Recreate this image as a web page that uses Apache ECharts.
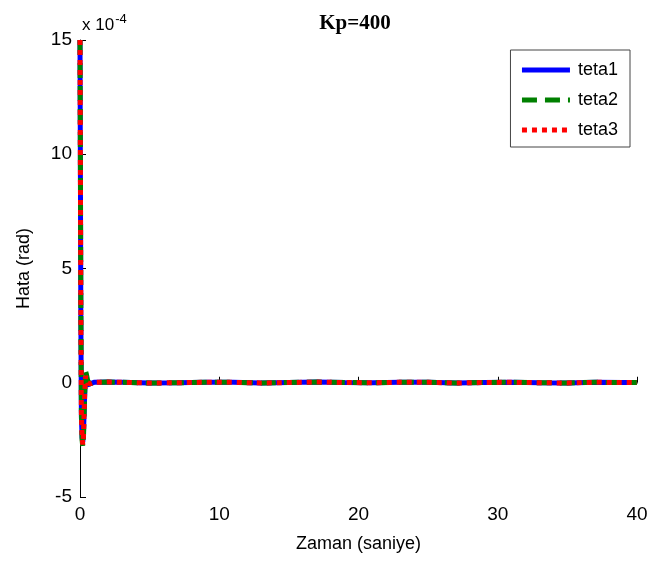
<!DOCTYPE html>
<html>
<head>
<meta charset="utf-8">
<script src="https://cdn.jsdelivr.net/npm/echarts@6/dist/echarts.min.js"></script>
<style>
html, body { margin: 0; padding: 0; background: #fff; }
#chart { width: 653px; height: 563px; }
</style>
</head>
<body>
<div id="chart"></div>
<script>
// zaman (s)
var time = [0, 0.03, 0.06, 0.1, 0.15, 0.2, 0.25, 0.3, 0.35, 0.4, 0.45, 0.55, 0.7, 1, 2, 3, 5, 7, 9, 11, 13, 15, 17, 19, 21, 23, 25, 27, 29, 31, 33, 35, 37, 39, 40];
// hata, x 1e-4 rad
var teta1 = [15, 9, 3, -1.5, -2.4, -2.6, -2.2, -1.2, -0.3, 0.2, 0.1, -0.1, -0.05, 0.02, 0.03, 0.02, -0.01, 0.0, 0.02, 0.02, -0.01, 0.01, 0.03, 0.01, 0.0, 0.02, 0.02, -0.01, 0.01, 0.02, 0.0, -0.01, 0.02, 0.01, 0.01];
var teta2 = [15, 9.5, 3.5, -1.2, -2.5, -2.8, -2.4, -1.3, -0.2, 0.5, 0.4, 0.1, -0.05, 0.02, 0.03, 0.02, -0.01, 0.0, 0.02, 0.02, -0.01, 0.01, 0.03, 0.01, 0.0, 0.02, 0.02, -0.01, 0.01, 0.02, 0.0, -0.01, 0.02, 0.01, 0.01];
var teta3 = [15, 9.2, 3.2, -1.4, -2.4, -2.7, -2.3, -1.2, -0.3, 0.3, 0.2, 0.0, -0.05, 0.02, 0.03, 0.02, -0.01, 0.0, 0.02, 0.02, -0.01, 0.01, 0.03, 0.01, 0.0, 0.02, 0.02, -0.01, 0.01, 0.02, 0.0, -0.01, 0.02, 0.01, 0.01];
var xTicks = [0, 10, 20, 30, 40];
var yTicks = [-5, 0, 5, 10, 15];

function pairs(ys) {
    return time.map(function (t, i) { return [t, ys[i]]; });
}

var chart = echarts.init(document.getElementById('chart'));

var option = {
    backgroundColor: '#fff',
    animation: false,
    title: {
        text: 'Kp=400',
        left: 350,
        textAlign: 'center',
        top: 8,
        textStyle: { fontFamily: 'Liberation Serif', fontSize: 21, fontWeight: 'bold', color: '#000' }
    },
    grid: { left: 80, right: 16, top: 40, bottom: 66 },
    legend: {
        right: 23,
        top: 50,
        orient: 'vertical',
        itemWidth: 48,
        itemHeight: 14,
        itemGap: 12,
        padding: [11, 12, 8, 9],
        backgroundColor: '#fff',
        borderColor: '#444',
        borderWidth: 1,
        itemStyle: { opacity: 0 },
        lineStyle: { width: 5 },
        textStyle: { fontFamily: 'Liberation Sans', fontSize: 18, color: '#000', padding: [0, 0, 0, 3] },
        data: ['teta1', 'teta2', 'teta3']
    },
    xAxis: {
        type: 'value',
        min: xTicks[0],
        max: xTicks[xTicks.length - 1],
        interval: 10,
        name: 'Zaman (saniye)',
        nameLocation: 'middle',
        nameGap: 38,
        nameTextStyle: { fontFamily: 'Liberation Sans', fontSize: 18, color: '#000' },
        axisLine: { lineStyle: { color: '#000', width: 1 } },
        axisTick: { inside: true, length: 6, lineStyle: { color: '#000' } },
        axisLabel: { fontFamily: 'Liberation Sans', fontSize: 19, color: '#000', margin: 8 },
        splitLine: { show: false }
    },
    yAxis: {
        type: 'value',
        min: yTicks[0],
        max: yTicks[yTicks.length - 1],
        interval: 5,
        name: 'Hata (rad)',
        nameLocation: 'middle',
        nameGap: 47,
        nameTextStyle: { fontFamily: 'Liberation Sans', fontSize: 18, color: '#000' },
        axisLine: { show: true, lineStyle: { color: '#000', width: 1 } },
        axisTick: { show: true, inside: true, length: 6, lineStyle: { color: '#000' } },
        axisLabel: { fontFamily: 'Liberation Sans', fontSize: 19, color: '#000', margin: 8 },
        splitLine: { show: false }
    },
    graphic: [{
        type: 'text',
        left: 82,
        top: 13,
        style: {
            text: '{b|x 10}{s|-4}',
            rich: {
                b: { fontFamily: 'Liberation Sans', fontSize: 17, fill: '#000', verticalAlign: 'bottom' },
                s: { fontFamily: 'Liberation Sans', fontSize: 13, fill: '#000', verticalAlign: 'top', padding: [0, 0, 8, 1] }
            }
        }
    }],
    series: [
        {
            name: 'teta1', type: 'line', data: pairs(teta1), symbol: 'none',
            color: '#0000ff',
            lineStyle: { color: '#0000ff', width: 5, type: 'solid' }
        },
        {
            name: 'teta2', type: 'line', data: pairs(teta2), symbol: 'none',
            color: '#008000',
            lineStyle: { color: '#008000', width: 5, type: [15, 8], cap: 'butt' }
        },
        {
            name: 'teta3', type: 'line', data: pairs(teta3), symbol: 'none',
            color: '#ff0000',
            lineStyle: { color: '#ff0000', width: 5, type: [5, 5], cap: 'butt' }
        }
    ]
};

chart.setOption(option);
</script>
</body>
</html>
